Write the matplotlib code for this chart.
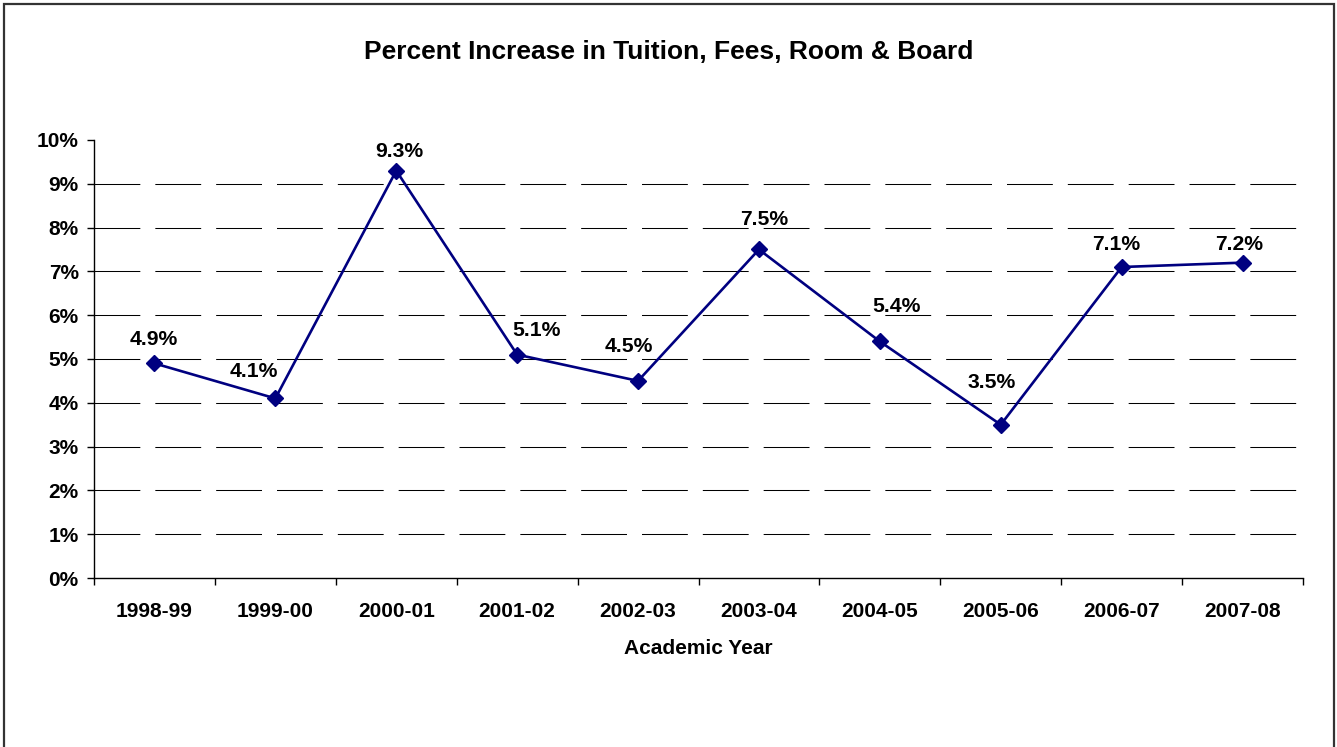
import matplotlib
matplotlib.use("Agg")
import matplotlib.pyplot as plt
from matplotlib.patches import Rectangle
from matplotlib.ticker import FixedLocator, FuncFormatter

plt.rcParams['font.family'] = ['Liberation Sans', 'DejaVu Sans']
plt.rcParams['font.weight'] = 'bold'

years = ["1998-99", "1999-00", "2000-01", "2001-02", "2002-03",
         "2003-04", "2004-05", "2005-06", "2006-07", "2007-08"]
pct_increase = [4.9, 4.1, 9.3, 5.1, 4.5, 7.5, 5.4, 3.5, 7.1, 7.2]
y_ticks = list(range(0, 11))

# hand-placed data label offsets (pixels, right / up from each marker)
label_dx = [-1, -22, 3, 19, -9, 5, 17, -9, -5, -3]
label_dy = [24, 27, 19, 24, 34, 30, 35, 42, 23, 18]

W, H, DPI = 1337, 747, 100
PX = 72 / DPI  # points per pixel
fig = plt.figure(figsize=(W / DPI, H / DPI), dpi=DPI)
fig.patch.set_facecolor("white")

# outer chart border
fig.add_artist(Rectangle((4 / W, -0.01), (1334 - 4) / W, 1.01 - 4 / H,
                         transform=fig.transFigure, fill=False,
                         edgecolor="#333333", linewidth=1.6))

ax = fig.add_axes([94 / W, 1 - 578 / H, (1303 - 94) / W, (578 - 140) / H])
x = list(range(len(years)))

# dashed horizontal gridlines
for v in y_ticks[1:-1]:
    ax.axhline(v, color="black", linewidth=0.75, dashes=(44, 14.4), zorder=1)

ax.plot(x, pct_increase, color="#000080", linewidth=1.9, marker="D",
        markersize=8, markerfacecolor="#000080", markeredgecolor="#000080",
        zorder=3)

for xi, v, dx, dy in zip(x, pct_increase, label_dx, label_dy):
    ax.annotate(f"{v:.1f}%", (xi, v), xytext=(dx * PX, dy * PX),
                textcoords="offset points", ha="center", va="center",
                fontsize=15.2, fontweight="bold", zorder=4)

ax.set_xlim(-0.5, len(years) - 0.5)
ax.set_ylim(0, 10)
ax.yaxis.set_major_locator(FixedLocator(y_ticks))
ax.yaxis.set_major_formatter(FuncFormatter(lambda v, p: f"{v:.0f}%"))
ax.set_xticks(x)
ax.set_xticklabels(years)
ax.set_xticks([i - 0.5 for i in range(len(years) + 1)], minor=True)

ax.tick_params(axis="x", which="major", length=0, pad=17, labelsize=15)
ax.tick_params(axis="x", which="minor", length=5, width=1, direction="out")
ax.tick_params(axis="y", which="major", length=5, width=1, pad=6,
               labelsize=15, direction="out")
for lab in ax.get_xticklabels() + ax.get_yticklabels():
    lab.set_fontweight("bold")

for s in ("top", "right"):
    ax.spines[s].set_visible(False)
for s in ("left", "bottom"):
    ax.spines[s].set_linewidth(1)

ax.set_xlabel("Academic Year", fontsize=15, fontweight="bold", labelpad=13)

fig.text(668.5 / W, 1 - 52 / H, "Percent Increase in Tuition, Fees, Room & Board",
         ha="center", va="center", fontsize=19, fontweight="bold")

fig.savefig("out.png", dpi=DPI)
